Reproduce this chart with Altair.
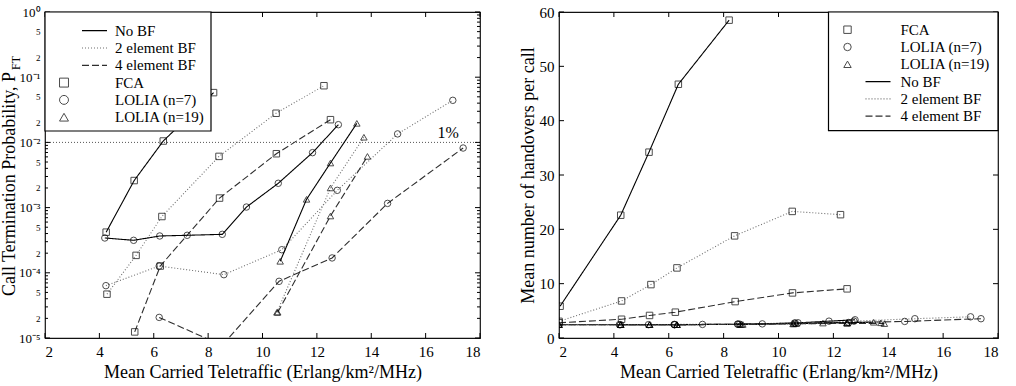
import altair as alt
import pandas as pd

FONT = "Liberation Serif"

SCHEMES = ["FCA", "LOLIA (n=7)", "LOLIA (n=19)"]
BF_TYPES = ["No BF", "2 element BF", "4 element BF"]

# --- measurements: x = mean carried teletraffic, pft = call termination
# probability (None where it is zero / not shown), ho = handovers per call ---
FCA_NOBF_X = [2.04, 4.25, 5.28, 6.35, 8.2]
FCA_NOBF_PFT = [None, 4.2e-4, 2.6e-3, 1.05e-2, 5.8e-2]
FCA_NOBF_HO = [5.85, 22.6, 34.2, 46.7, 58.5]

FCA_2BF_X = [2.0, 4.28, 5.35, 6.3, 8.4, 10.5, 12.26]
FCA_2BF_PFT = [None, 4.7e-5, 1.85e-4, 7.3e-4, 6.1e-3, 2.8e-2, 7.4e-2]
FCA_2BF_HO = [3.07, 6.82, 9.83, 12.9, 18.8, 23.3, 22.7]

FCA_4BF_X = [2.0, 4.28, 5.3, 6.24, 8.42, 10.51, 12.5]
FCA_4BF_PFT = [None, None, 1.24e-5, 1.27e-4, 1.4e-3, 6.7e-3, 2.23e-2]
FCA_4BF_HO = [2.8, 3.45, 4.15, 4.75, 6.7, 8.3, 9.05]

L7_NOBF_X = [4.2, 5.26, 6.22, 7.23, 8.52, 9.41, 10.58, 11.84, 12.79]
L7_NOBF_PFT = [3.42e-4, 3.15e-4, 3.67e-4, 3.76e-4, 3.89e-4, 1.02e-3, 2.36e-3, 6.96e-3, 1.87e-2]
L7_NOBF_HO = [2.45, 2.45, 2.45, 2.5, 2.55, 2.6, 2.75, 3.1, 3.35]

L7_2BF_X = [4.24, 6.2, 8.58, 10.71, 12.75, 14.97, 17.0]
L7_2BF_PFT = [6.35e-5, 1.27e-4, 9.36e-5, 2.26e-4, 1.84e-3, 1.35e-2, 4.42e-2]
L7_2BF_HO = [2.45, 2.5, 2.55, 2.8, 3.1, 3.55, 3.9]

L7_4BF_X = [6.2, 8.51, 10.61, 12.56, 14.6, 17.38]
L7_4BF_PFT = [2.07e-5, 7.7e-6, 7.4e-5, 1.69e-4, 1.16e-3, 8.2e-3]
L7_4BF_HO = [2.45, 2.55, 2.75, 2.85, 3.05, 3.55]

L19_NOBF_X = [2.0, 4.25, 5.3, 6.3, 8.6, 10.65, 11.62, 12.5, 13.47]
L19_NOBF_PFT = [None, None, None, None, None, 1.5e-4, 1.34e-3, 4.83e-3, 1.96e-2]
L19_NOBF_HO = [2.45, 2.45, 2.45, 2.45, 2.5, 2.65, 2.75, 2.85, 2.9]

L19_2BF_X = [2.0, 4.25, 5.3, 6.3, 8.65, 10.53, 12.5, 13.73]
L19_2BF_PFT = [None, None, None, None, None, 2.48e-5, 2.0e-3, 1.2e-2]
L19_2BF_HO = [2.45, 2.45, 2.45, 2.45, 2.5, 2.6, 2.75, 2.8]

L19_4BF_X = [2.0, 4.25, 5.3, 6.3, 8.7, 10.56, 12.5, 13.86]
L19_4BF_PFT = [None, None, None, None, None, 2.48e-5, 7.43e-4, 6.1e-3]
L19_4BF_HO = [2.45, 2.45, 2.45, 2.45, 2.5, 2.6, 2.7, 2.65]

X_TICKS = [2, 4, 6, 8, 10, 12, 14, 16, 18]
HO_TICKS = [0, 10, 20, 30, 40, 50, 60]
PFT_MAJOR = [1e-5, 1e-4, 1e-3, 1e-2, 1e-1, 1.0]
PFT_TICKS = [k * 10.0 ** e for e in range(-5, 0) for k in range(1, 10)] + [1.0]
ONE_PERCENT = [0.01]

LEFT_LEGEND = [
    ("No BF", "line", "No BF"),
    ("2 element BF", "line", "2 element BF"),
    ("4 element BF", "line", "4 element BF"),
    ("FCA", "symbol", "FCA"),
    ("LOLIA (n=7)", "symbol", "LOLIA (n=7)"),
    ("LOLIA (n=19)", "symbol", "LOLIA (n=19)"),
]
RIGHT_LEGEND = [
    ("FCA", "symbol", "FCA"),
    ("LOLIA (n=7)", "symbol", "LOLIA (n=7)"),
    ("LOLIA (n=19)", "symbol", "LOLIA (n=19)"),
    ("No BF", "line", "No BF"),
    ("2 element BF", "line", "2 element BF"),
    ("4 element BF", "line", "4 element BF"),
]

series = [
    ("FCA", "No BF", FCA_NOBF_X, FCA_NOBF_PFT, FCA_NOBF_HO),
    ("FCA", "2 element BF", FCA_2BF_X, FCA_2BF_PFT, FCA_2BF_HO),
    ("FCA", "4 element BF", FCA_4BF_X, FCA_4BF_PFT, FCA_4BF_HO),
    ("LOLIA (n=7)", "No BF", L7_NOBF_X, L7_NOBF_PFT, L7_NOBF_HO),
    ("LOLIA (n=7)", "2 element BF", L7_2BF_X, L7_2BF_PFT, L7_2BF_HO),
    ("LOLIA (n=7)", "4 element BF", L7_4BF_X, L7_4BF_PFT, L7_4BF_HO),
    ("LOLIA (n=19)", "No BF", L19_NOBF_X, L19_NOBF_PFT, L19_NOBF_HO),
    ("LOLIA (n=19)", "2 element BF", L19_2BF_X, L19_2BF_PFT, L19_2BF_HO),
    ("LOLIA (n=19)", "4 element BF", L19_4BF_X, L19_4BF_PFT, L19_4BF_HO),
]

records = []
for scheme, bf, xs, pfts, hos in series:
    for x, p, h in zip(xs, pfts, hos):
        records.append({"scheme": scheme, "bf": bf, "sid": f"{scheme} | {bf}",
                        "x": x, "pft": p, "ho": h})
df = pd.DataFrame(records)
df_pft = df.dropna(subset=["pft"]).reset_index(drop=True)

# --- shared scales ---
x_scale = alt.Scale(domain=[2, 18], nice=False, zero=False)
pft_scale = alt.Scale(type="log", domain=[1e-5, 1], nice=False)
ho_scale = alt.Scale(domain=[0, 60], nice=False, zero=True)
DASHES = [[1, 0], [1, 2], [7, 3]]
STROKES = ["#000000", "#6e6e6e", "#2e2e2e"]
SHAPES = ["square", "circle", "triangle-up"]
dash_scale = alt.Scale(domain=BF_TYPES, range=DASHES)
stroke_scale = alt.Scale(domain=BF_TYPES, range=STROKES)
shape_scale = alt.Scale(domain=SCHEMES, range=SHAPES)
DASH = dict(zip(BF_TYPES, DASHES))
STROKE = dict(zip(BF_TYPES, STROKES))
SHAPE = dict(zip(SCHEMES, SHAPES))

x_axis = alt.Axis(
    values=X_TICKS, format="d", title="Mean Carried Teletraffic (Erlang/km²/MHz)",
    grid=False, domain=False, ticks=False, labelPadding=6, titlePadding=4,
    labelFontSize=15, titleFontSize=18, labelFont=FONT, titleFont=FONT,
    titleFontWeight="normal", labelColor="#000", titleColor="#000",
)

IS_DECADE = "abs(log(datum.value)/LN10 - round(log(datum.value)/LN10)) < 1e-6"
MANT = "round(datum.value / pow(10, floor(log(datum.value)/LN10 + 1e-9)))"
pft_axis = alt.Axis(
    values=PFT_TICKS, title=None, grid=False, domain=False, ticks=False,
    labelOverlap=False, labelFlush=False, labelPadding=5, labelFont=FONT,
    labelColor="#000",
    labelExpr=(
        f"({IS_DECADE}) ? ['10⁰','10⁻¹','10⁻²','10⁻³','10⁻⁴','10⁻⁵']"
        f"[-round(log(datum.value)/LN10)] : "
        f"(indexof([2, 5], {MANT}) >= 0 ? format({MANT}, 'd') : '')"
    ),
    labelFontSize={"condition": {"test": IS_DECADE, "value": 13}, "value": 9},
)

ho_axis = alt.Axis(
    values=HO_TICKS, title="Mean number of handovers per call", grid=False,
    domain=False, ticks=False, labelPadding=5, titlePadding=2,
    labelFontSize=15, titleFontSize=18, labelFont=FONT, titleFont=FONT,
    titleFontWeight="normal", labelColor="#000", titleColor="#000",
)


def inner_ticks(yscale, yaxis, major, minor, w, h):
    """Short tick marks drawn inward on all four sides of the frame."""
    out = []
    xs = alt.X("t:Q", scale=x_scale, axis=x_axis)
    xt = alt.Chart(pd.DataFrame({"t": X_TICKS})).mark_rule(color="#000", strokeWidth=1)
    out.append(xt.encode(x=xs, y=alt.value(h), y2=alt.value(h - 5)))
    out.append(xt.encode(x=xs, y=alt.value(0), y2=alt.value(5)))
    ys = alt.Y("t:Q", scale=yscale, axis=yaxis)
    for vals, ln in ((major, 5), (minor, 3)):
        if not vals:
            continue
        yt = alt.Chart(pd.DataFrame({"t": vals})).mark_rule(color="#000", strokeWidth=1)
        out.append(yt.encode(y=ys, x=alt.value(0), x2=alt.value(ln)))
        out.append(yt.encode(y=ys, x=alt.value(w), x2=alt.value(w - ln)))
    return out


def legend_layers(entries, box, sym_x, line_x, text_x, y0, step, sym_size):
    one = pd.DataFrame({"k": [0]})
    layers = [
        alt.Chart(one).mark_rect(fill="white", stroke="#000", strokeWidth=1.2).encode(
            x=alt.value(box[0]), x2=alt.value(box[1]),
            y=alt.value(box[2]), y2=alt.value(box[3]))
    ]
    for i, (label, kind, key) in enumerate(entries):
        yy = y0 + i * step
        if kind == "line":
            layers.append(alt.Chart(one).mark_rule(
                strokeWidth=1.2, strokeDash=DASH[key], color=STROKE[key]).encode(
                x=alt.value(line_x[0]), x2=alt.value(line_x[1]), y=alt.value(yy)))
        else:
            layers.append(alt.Chart(one).mark_point(
                filled=False, color="#000", strokeWidth=1, size=sym_size,
                shape=SHAPE[key]).encode(x=alt.value(sym_x), y=alt.value(yy)))
        layers.append(alt.Chart(pd.DataFrame({"label": [label]})).mark_text(
            align="left", baseline="middle", font=FONT, fontSize=15, color="#000"
        ).encode(x=alt.value(text_x), y=alt.value(yy), text="label:N"))
    return layers


def data_layers(data, yfield, yscale, yaxis):
    xenc = alt.X("x:Q", scale=x_scale, axis=x_axis)
    yenc = alt.Y(f"{yfield}:Q", scale=yscale, axis=yaxis)
    lines = alt.Chart(data).mark_line(clip=True, strokeWidth=1.1).encode(
        x=xenc, y=yenc, detail="sid:N",
        strokeDash=alt.StrokeDash("bf:N", scale=dash_scale, legend=None),
        stroke=alt.Stroke("bf:N", scale=stroke_scale, legend=None),
    )
    points = alt.Chart(data).mark_point(
        clip=True, filled=False, color="#000", strokeWidth=1, size=42
    ).encode(
        x=xenc, y=yenc,
        shape=alt.Shape("scheme:N", scale=shape_scale, legend=None),
    )
    return lines, points


W_L, H_L = 435, 326
W_R, H_R = 439, 326

# ---- left panel: call termination probability ----
l_lines, l_points = data_layers(df_pft, "pft", pft_scale, pft_axis)
level = pd.DataFrame({"level": ONE_PERCENT, "xl": [16.83], "txt": ["1%"]})
one_pct_rule = alt.Chart(level).mark_rule(
    strokeDash=[1, 2], color="#555", strokeWidth=1
).encode(y=alt.Y("level:Q", scale=pft_scale, axis=pft_axis))
one_pct_text = alt.Chart(level).mark_text(
    font=FONT, fontSize=16, baseline="bottom", dy=-1, color="#000"
).encode(x=alt.X("xl:Q", scale=x_scale, axis=x_axis),
         y=alt.Y("level:Q", scale=pft_scale, axis=pft_axis), text="txt:N")

ytitle = alt.Chart(pd.DataFrame({"t": ["Call Termination Probability, P"]})).mark_text(
    font=FONT, fontSize=18, angle=270, align="center", baseline="bottom", color="#000"
).encode(x=alt.value(-26), y=alt.value(172), text="t:N")
ytitle_sub = alt.Chart(pd.DataFrame({"t": ["FT"]})).mark_text(
    font=FONT, fontSize=12, angle=270, align="center", baseline="bottom", color="#000"
).encode(x=alt.value(-22), y=alt.value(51), text="t:N")

pft_minor = [v for v in PFT_TICKS if v not in PFT_MAJOR]
left = alt.layer(
    one_pct_rule, l_lines, l_points, one_pct_text,
    *inner_ticks(pft_scale, pft_axis, PFT_MAJOR, pft_minor, W_L, H_L),
    *legend_layers(LEFT_LEGEND, (0, 166, 0, 119), 19, (37, 62), 70, 18.7, 17.3, 80),
    ytitle, ytitle_sub,
).properties(width=W_L, height=H_L)

# ---- right panel: handovers per call ----
r_lines, r_points = data_layers(df, "ho", ho_scale, ho_axis)
right = alt.layer(
    r_lines, r_points,
    *inner_ticks(ho_scale, ho_axis, HO_TICKS, [], W_R, H_R),
    *legend_layers(RIGHT_LEGEND, (269.5, W_R, 0, 118.7), 288.5, (306.5, 331.5), 341.5,
                   17.7, 17.3, 55),
).properties(width=W_R, height=H_R)

chart = alt.hconcat(left, right, spacing=36).properties(
    padding={"left": 0, "top": 4, "right": 0, "bottom": 0}
).configure(font=FONT).configure_view(stroke="#111", strokeWidth=1.2)

chart.save("out.html", embed_options={"renderer": "svg", "actions": False})
